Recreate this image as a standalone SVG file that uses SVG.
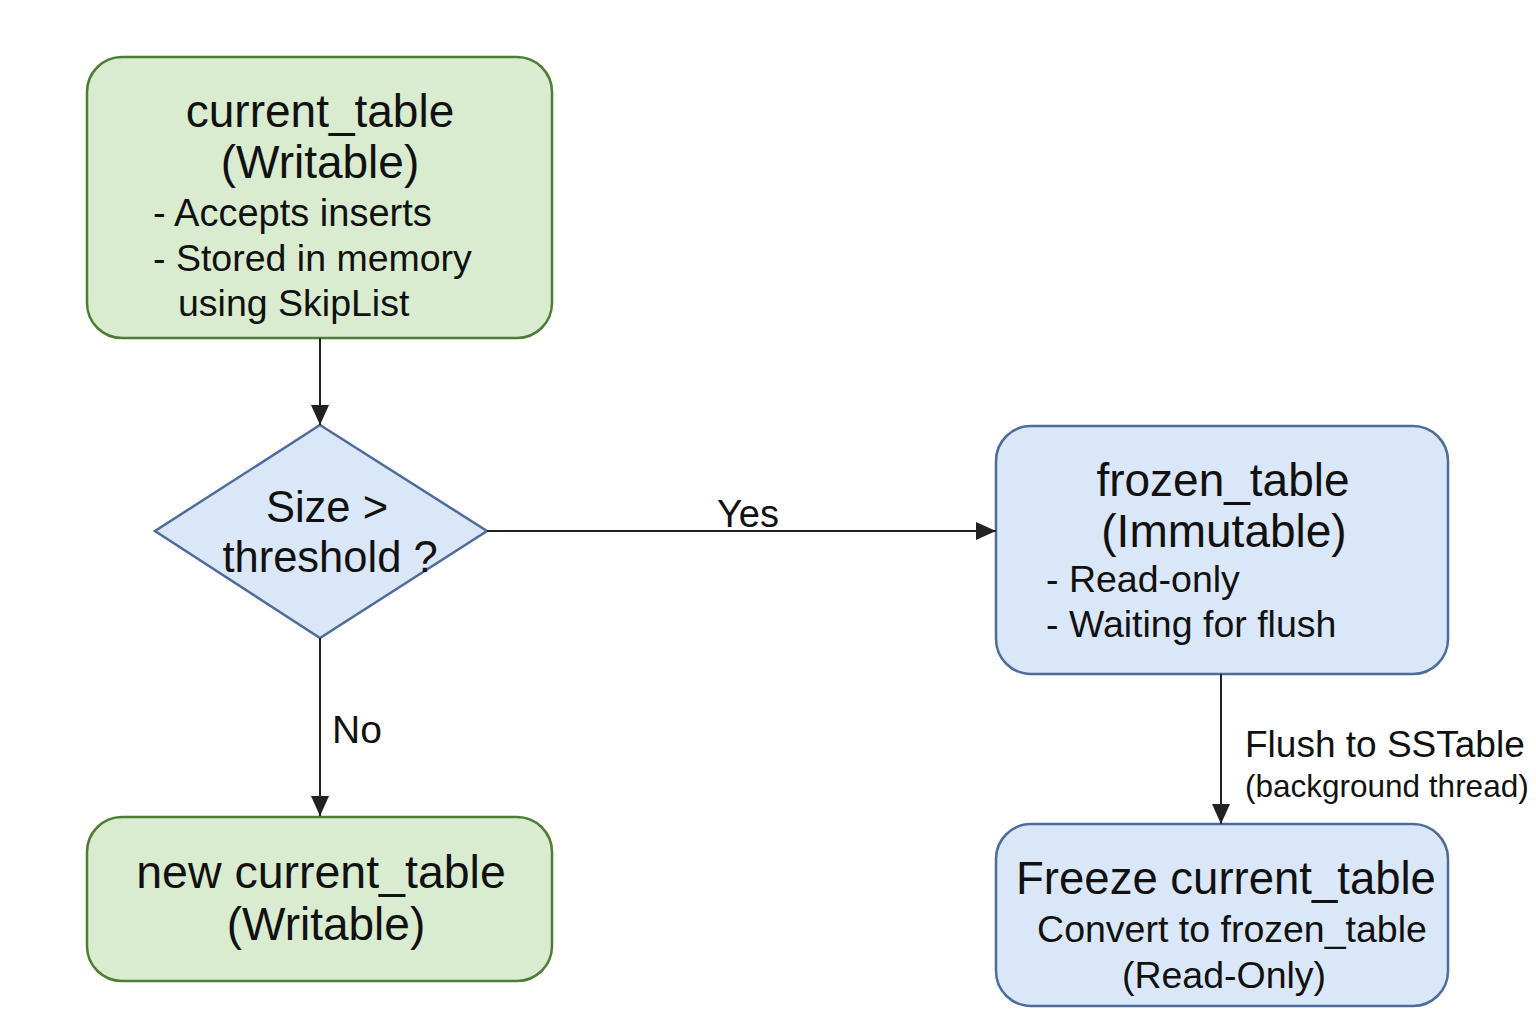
<svg xmlns="http://www.w3.org/2000/svg" width="1536" height="1024" viewBox="0 0 1536 1024">
<defs>
<style>
.g{fill:#d9ecd0;stroke:#4e7d32;stroke-width:2.5}
.b{fill:#dae7f8;stroke:#4d6b9c;stroke-width:2.5}
text{font-family:"Liberation Sans",Arial,sans-serif;fill:#111}
.t{font-size:46px;text-anchor:middle}
.s{font-size:37.5px}
.c{font-size:37.5px;text-anchor:middle}
.e{stroke:#222;stroke-width:2;fill:none}
</style>
<marker id="ah" viewBox="0 0 20 18" refX="20" refY="9" markerWidth="20" markerHeight="18" markerUnits="userSpaceOnUse" orient="auto">
<path d="M0,0 L20,9 L0,18 Z" fill="#222"/>
</marker>
</defs>
<rect width="1536" height="1024" fill="#fff"/>
<g id="current_table">
<rect class="g" x="87" y="57" width="465" height="281" rx="35"/>
<text class="t" x="320" y="127">current_table</text>
<text class="t" x="320" y="178">(Writable)</text>
<text class="s" x="153" y="226" style="font-size:38px">- Accepts inserts</text>
<text class="s" x="153" y="271">- Stored in memory</text>
<text class="s" x="178" y="316">using SkipList</text>
</g>
<g id="decision">
<polygon class="b" points="320,425 487,531 320,638 155,531"/>
<text class="t" x="327" y="522" style="font-size:43.5px">Size &gt;</text>
<text class="t" x="330" y="572" style="font-size:43.5px">threshold ?</text>
</g>
<g id="frozen_table">
<rect class="b" x="996" y="426" width="452" height="248" rx="35"/>
<text class="t" x="1223" y="496">frozen_table</text>
<text class="t" x="1224" y="547">(Immutable)</text>
<text class="s" x="1046" y="592">- Read-only</text>
<text class="s" x="1046" y="637">- Waiting for flush</text>
</g>
<g id="new_current_table">
<rect class="g" x="87" y="817" width="465" height="164" rx="35"/>
<text class="t" x="321" y="888" style="font-size:46.5px">new current_table</text>
<text class="t" x="326" y="940">(Writable)</text>
</g>
<g id="freeze">
<rect class="b" x="996" y="824" width="452" height="182" rx="35"/>
<text class="t" x="1226" y="894" style="font-size:45.5px">Freeze current_table</text>
<text class="c" x="1232" y="942">Convert to frozen_table</text>
<text class="c" x="1224" y="988">(Read-Only)</text>
</g>
<g id="connectors">
<line class="e" x1="320" y1="338" x2="320" y2="425" marker-end="url(#ah)"/>
<line class="e" x1="487" y1="531" x2="996" y2="531" marker-end="url(#ah)"/>
<line class="e" x1="320" y1="638" x2="320" y2="816" marker-end="url(#ah)"/>
<line class="e" x1="1221" y1="674" x2="1221" y2="824" marker-end="url(#ah)"/>
<text class="c" x="748" y="527" style="font-size:38px">Yes</text>
<text class="s" x="332" y="743" style="font-size:39px">No</text>
<text x="1245" y="757" style="font-size:37px">Flush to SSTable</text>
<text x="1245" y="797" style="font-size:31.5px">(background thread)</text>
</g>
</svg>
